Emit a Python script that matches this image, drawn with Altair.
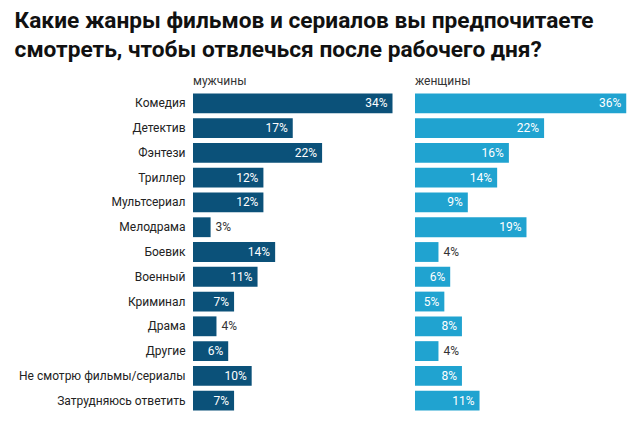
import altair as alt
import pandas as pd

categories = ["Комедия", "Детектив", "Фэнтези", "Триллер", "Мультсериал", "Мелодрама",
              "Боевик", "Военный", "Криминал", "Драма", "Другие",
              "Не смотрю фильмы/сериалы", "Затрудняюсь ответить"]
men = [34, 17, 22, 12, 12, 3, 14, 11, 7, 4, 6, 10, 7]
women = [36, 22, 16, 14, 9, 19, 4, 6, 5, 8, 4, 8, 11]

FONT = "Roboto"


def panel(values, color, header, show_axis):
    df = pd.DataFrame({"Жанр": categories, "Доля": values})
    df["label"] = [f"{v}%" for v in values]
    base = alt.Chart(df).encode(
        y=alt.Y("Жанр:N", sort=categories, title=None,
                scale=alt.Scale(paddingInner=0.2, paddingOuter=0.1),
                axis=alt.Axis(labelFontSize=12, labelColor="#222222", labelFont=FONT,
                              labelPadding=8, ticks=False, domain=False, labelLimit=200)
                if show_axis else None),
        x=alt.X("Доля:Q", axis=None, scale=alt.Scale(domain=[0, 36.3], nice=False)),
    )
    bars = base.mark_bar(color=color)
    inside = base.mark_text(align="right", dx=-5, color="white", fontSize=12, font=FONT).encode(
        text="label:N"
    ).transform_filter(alt.datum["Доля"] >= 5)
    outside = base.mark_text(align="left", dx=5, color="#333333", fontSize=12, font=FONT).encode(
        text="label:N"
    ).transform_filter(alt.datum["Доля"] < 5)
    return (bars + inside + outside).properties(
        width=213, height=322,
        title=alt.TitleParams(header, anchor="start", fontSize=12, font=FONT, frame="group",
                              fontWeight="normal", color="#333333", offset=3),
    )


left = panel(men, "#0b5179", "мужчины", True)
right = panel(women, "#20a3d0", "женщины", False)

chart = alt.hconcat(left, right, spacing=9).properties(
    title=alt.TitleParams(
        ["Какие жанры фильмов и сериалов вы предпочитаете",
         "смотреть, чтобы отвлечься после рабочего дня?"],
        anchor="start", fontSize=22.7, font=FONT, fontWeight="bold", color="#111111",
        lineHeight=29, offset=13, dx=-4),
    padding={"left": 6, "top": 2, "right": 0, "bottom": 0},
    background="white",
).configure_view(stroke=None)

chart.save("out.html", embed_options={"renderer": "svg", "actions": False})
